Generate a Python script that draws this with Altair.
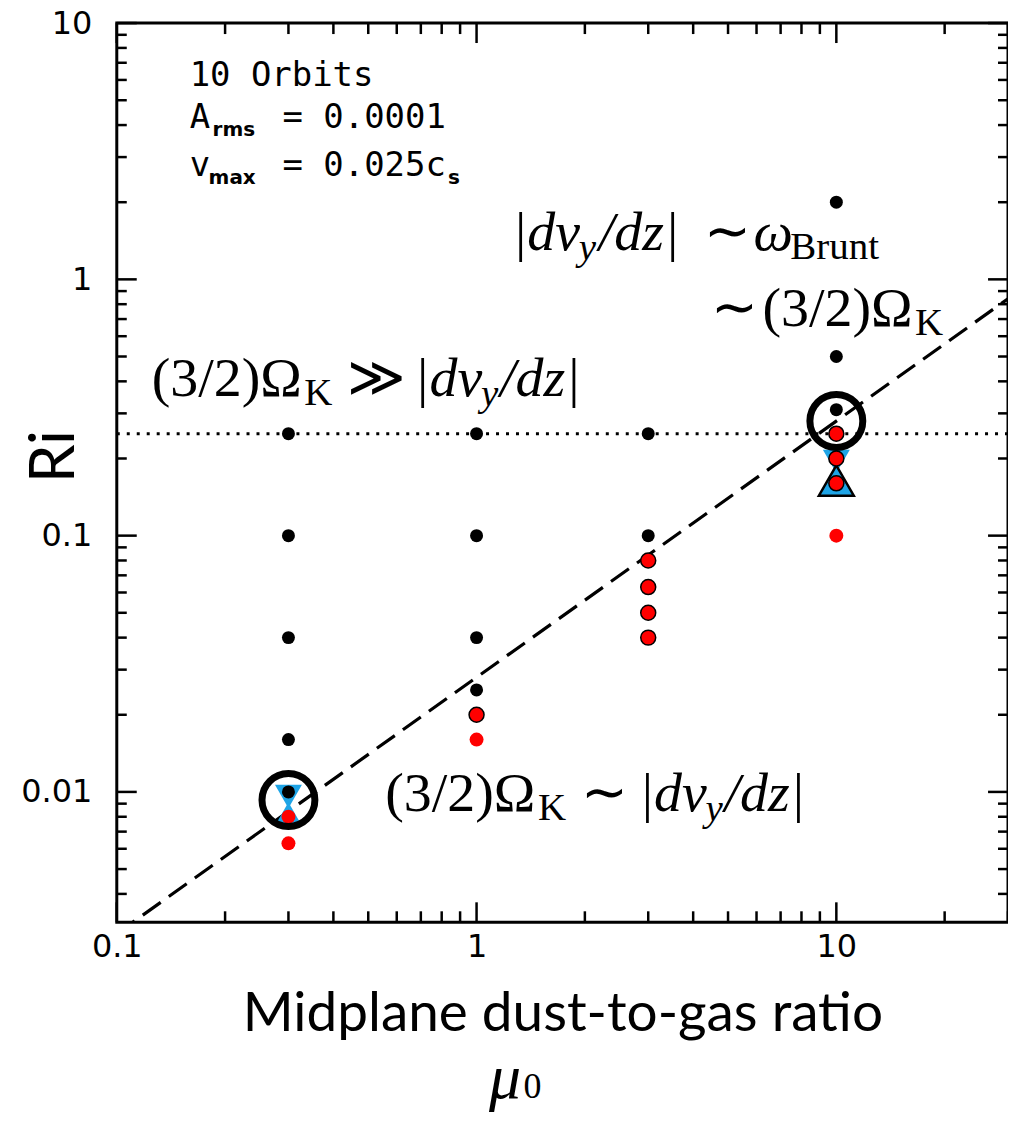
import altair as alt
import pandas as pd

# ---------------- data ----------------
mu_black = [0.3, 0.3, 0.3, 0.3, 0.3, 1, 1, 1, 1, 3, 3, 10, 10, 10]
ri_black = [0.25, 0.1, 0.04, 0.016, 0.01, 0.25, 0.1, 0.04, 0.025, 0.25, 0.1, 2.0, 0.5, 0.31]
mu_red = [0.3, 0.3, 1, 10]
ri_red = [0.008, 0.0063, 0.016, 0.1]
mu_red_edge = [1, 3, 3, 3, 3, 10, 10, 10]
ri_red_edge = [0.02, 0.08, 0.063, 0.05, 0.04, 0.25, 0.2, 0.16]
mu_tri_down = [0.3, 10]
ri_tri_down = [0.0096, 0.195]
mu_tri_up = [0.3]
ri_tri_up = [0.0082]
mu_tri_up_edge = [10]
ri_tri_up_edge = [0.164]
mu_ring = [0.3, 10]
ri_ring = [0.0093, 0.28]
line_mu = [0.1, 30]
line_ri = [0.0028, 0.84]
ri_crit = [0.25]

x_major = [0.1, 1, 10]
x_minor = [0.2, 0.3, 0.4, 0.5, 0.6, 0.7, 0.8, 0.9, 2, 3, 4, 5, 6, 7, 8, 9, 20, 30]
y_major = [0.01, 0.1, 1, 10]
y_minor = [0.004, 0.005, 0.006, 0.007, 0.008, 0.009,
           0.02, 0.03, 0.04, 0.05, 0.06, 0.07, 0.08, 0.09,
           0.2, 0.3, 0.4, 0.5, 0.6, 0.7, 0.8, 0.9,
           2, 3, 4, 5, 6, 7, 8, 9]

x_title = "Midplane dust-to-gas ratio"
y_title = "Ri"
info_text = ["10 Orbits", "A", "rms", "= 0.0001", "v", "max", "= 0.025c", "s"]
line_a = ["|dv", "y", "/dz|", "\u223c", "\u03c9", "Brunt"]
line_b = ["\u223c", "(3/2)\u03a9", "K"]
line_c = ["(3/2)\u03a9", "K", "\u226b", "|dv", "y", "/dz|"]
line_d = ["(3/2)\u03a9", "K", "\u223c", "|dv", "y", "/dz|"]
mu_label = ["\u03bc", "0"]

W, H = 893, 901
BLUE = "#1ea4e6"
SERIF = "Liberation Serif"
SANS = "DejaVu Sans"
MONO = "DejaVu Sans Mono"

xs = alt.Scale(type="log", domain=[0.1, 30], nice=False)
ys = alt.Scale(type="log", domain=[0.0031, 10], nice=False)

xaxis = alt.Axis(values=x_major, format="~g", ticks=False, domain=False, grid=False,
                 labelFont=SANS, labelFontSize=32, labelColor="black", labelPadding=9,
                 labelFlush=False, labelOverlap=False,
                 title=x_title, titleFont="Lato", titleFontSize=55, titleFontWeight="normal",
                 titleColor="black", titleX=W / 2, titleY=108, titleAlign="center",
                 titleBaseline="alphabetic")
yaxis = alt.Axis(values=y_major, format="~g", ticks=False, domain=False, grid=False,
                 labelFont=SANS, labelFontSize=32, labelColor="black", labelPadding=25,
                 labelOverlap=False, labelFlush=False,
                 title=y_title, titleFont="Lato", titleFontSize=62, titleFontWeight="normal",
                 titleColor="black", titleX=-62, titleY=434, titleAlign="center",
                 titleBaseline="middle", titleAngle=270)


def xenc(f):
    return alt.X(f + ":Q", scale=xs, axis=xaxis)


def yenc(f):
    return alt.Y(f + ":Q", scale=ys, axis=yaxis)


def pts(mu, ri, shape, size, fill, stroke=None, sw=0, filled=True):
    df = pd.DataFrame({"mu": mu, "ri": ri})
    kw = dict(shape=shape, size=size, opacity=1)
    if filled:
        kw["fill"] = fill
        kw["fillOpacity"] = 1
    else:
        kw["fill"] = "transparent"
    if stroke is not None:
        kw["stroke"] = stroke
        kw["strokeWidth"] = sw
    else:
        kw["strokeWidth"] = 0
    return alt.Chart(df).mark_point(**kw).encode(x=xenc("mu"), y=yenc("ri"))


def txt(x, y, s, size, dx=0, dy=0, font=SERIF, style="normal", weight="normal"):
    df = pd.DataFrame({"mu": [x], "ri": [y], "t": [s]})
    return alt.Chart(df).mark_text(align="left", baseline="alphabetic", dx=dx, dy=dy,
                                   font=font, fontSize=size, fontStyle=style,
                                   fontWeight=weight, color="black").encode(
        x=xenc("mu"), y=yenc("ri"), text="t:N")


layers = []

# reference lines
layers.append(alt.Chart(pd.DataFrame({"ri": ri_crit})).mark_rule(
    color="black", strokeWidth=3, strokeDash=[3, 7]).encode(y=yenc("ri")))
layers.append(alt.Chart(pd.DataFrame({"mu": line_mu, "ri": line_ri})).mark_line(
    color="black", strokeWidth=3.2, strokeDash=[22, 10], clip=True).encode(
    x=xenc("mu"), y=yenc("ri")))

# triangles
layers.append(pts(mu_tri_down, ri_tri_down, "triangle-down", 729, BLUE))
layers.append(pts(mu_tri_up, ri_tri_up, "triangle-up", 729, BLUE))
layers.append(pts(mu_tri_up_edge, ri_tri_up_edge, "triangle-up", 1225, BLUE, "black", 2.5))

# dots
layers.append(pts(mu_black, ri_black, "circle", 169, "black"))
layers.append(pts(mu_red, ri_red, "circle", 196, "red"))
layers.append(pts(mu_red_edge, ri_red_edge, "circle", 225, "red", "black", 1.5))
layers.append(pts(mu_ring, ri_ring, "circle", 2809, None, "black", 7, filled=False))

# ticks (inward on all four sides)
for vals, ln in ((x_major, 20), (x_minor, 11)):
    d = pd.DataFrame({"v": vals})
    layers.append(alt.Chart(d).mark_rule(color="black", strokeWidth=2.5).encode(
        x=xenc("v"), y=alt.value(H), y2=alt.value(H - ln)))
    layers.append(alt.Chart(d).mark_rule(color="black", strokeWidth=2.5).encode(
        x=xenc("v"), y=alt.value(0), y2=alt.value(ln)))
for vals, ln in ((y_major, 20), (y_minor, 10)):
    d = pd.DataFrame({"v": vals})
    layers.append(alt.Chart(d).mark_rule(color="black", strokeWidth=2.5).encode(
        y=yenc("v"), x=alt.value(0), x2=alt.value(ln)))
    layers.append(alt.Chart(d).mark_rule(color="black", strokeWidth=2.5).encode(
        y=yenc("v"), x=alt.value(W), x2=alt.value(W - ln)))

# info block (top left)
X0 = 0.1594
layers.append(txt(X0, 5.69, info_text[0], 34, font=MONO))
layers.append(txt(X0, 3.91, info_text[1], 34, font=MONO))
layers.append(txt(X0, 3.91, info_text[2], 20, dx=23, dy=8, font=SANS, weight="bold"))
layers.append(txt(X0, 3.91, info_text[3], 34, dx=93, font=MONO))
layers.append(txt(X0, 2.52, info_text[4], 34, font=MONO))
layers.append(txt(X0, 2.52, info_text[5], 20, dx=19, dy=8, font=SANS, weight="bold"))
layers.append(txt(X0, 2.52, info_text[6], 34, dx=93, font=MONO))
layers.append(txt(X0, 2.52, info_text[7], 20, dx=259, dy=8, font=SANS, weight="bold"))

FS, SS = 56, 39
# line A
xa, ya = 1.254, 1.299
layers.append(txt(xa, ya, line_a[0], FS, style="italic"))
layers.append(txt(xa, ya, line_a[1], SS, dx=67, dy=10, style="italic"))
layers.append(txt(xa, ya, line_a[2], FS, dx=87, style="italic"))
layers.append(txt(xa, ya, line_a[3], FS, dx=192))
layers.append(txt(xa, ya, line_a[4], FS, dx=242, style="italic"))
layers.append(txt(xa, ya, line_a[5], SS, dx=279, dy=9))
# line B
xb, yb = 4.47, 0.658
layers.append(txt(xb, yb, line_b[0], FS))
layers.append(txt(xb, yb, line_b[1], FS, dx=52))
layers.append(txt(xb, yb, line_b[2], SS, dx=205, dy=9))
# line C
xc, yc = 0.125, 0.3515
layers.append(txt(xc, yc, line_c[0], FS))
layers.append(txt(xc, yc, line_c[1], SS, dx=153, dy=9))
layers.append(txt(xc, yc, line_c[2], FS, dx=196))
layers.append(txt(xc, yc, line_c[3], FS, dx=263, style="italic"))
layers.append(txt(xc, yc, line_c[4], SS, dx=330, dy=10, style="italic"))
layers.append(txt(xc, yc, line_c[5], FS, dx=349, style="italic"))
# line D
xd, yd = 0.5574, 0.0084
layers.append(txt(xd, yd, line_d[0], FS))
layers.append(txt(xd, yd, line_d[1], SS, dx=153, dy=9))
layers.append(txt(xd, yd, line_d[2], FS, dx=196))
layers.append(txt(xd, yd, line_d[3], FS, dx=254, style="italic"))
layers.append(txt(xd, yd, line_d[4], SS, dx=321, dy=10, style="italic"))
layers.append(txt(xd, yd, line_d[5], FS, dx=340, style="italic"))

# mu_0 (second line of the x title)
layers.append(txt(1.083, 0.000642, mu_label[0], 64, style="italic"))
layers.append(txt(1.350, 0.000640, mu_label[1], 36))

chart = alt.layer(*layers).properties(
    width=W, height=H,
    autosize=alt.AutoSizeParams(type="none"),
    padding={"left": 109, "top": 14, "right": 0, "bottom": 190},
    background="white",
).configure_view(stroke="black", strokeWidth=3)

chart.save("out.html", embed_options={"renderer": "svg", "actions": False})
